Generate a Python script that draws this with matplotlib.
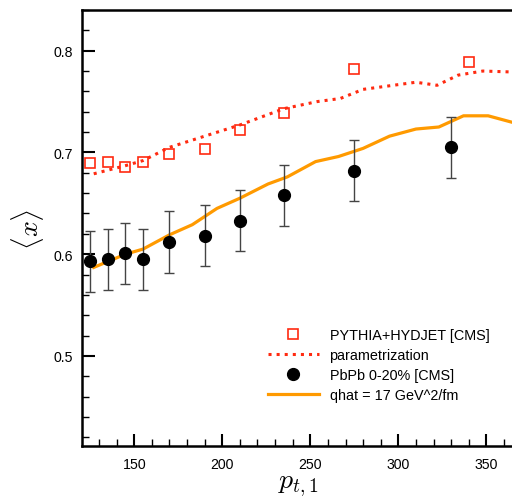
import matplotlib
matplotlib.use("Agg")
import matplotlib.pyplot as plt
from matplotlib.ticker import MultipleLocator

plt.rcParams['font.family'] = ['Liberation Sans', 'DejaVu Sans']
plt.rcParams['mathtext.fontset'] = 'cm'

# PYTHIA+HYDJET [CMS]
pyth_x = [125, 135, 145, 155, 170, 190, 210, 235, 275, 340]
pyth_y = [0.690, 0.691, 0.686, 0.691, 0.698, 0.703, 0.722, 0.739, 0.782, 0.789]

# PbPb 0-20% [CMS]
pbpb_x = [125, 135, 145, 155, 170, 190, 210, 235, 275, 330]
pbpb_y = [0.593, 0.595, 0.601, 0.595, 0.612, 0.618, 0.633, 0.658, 0.682, 0.705]
pbpb_err = [0.030, 0.030, 0.030, 0.030, 0.030, 0.030, 0.030, 0.030, 0.030, 0.030]

# parametrization
param_x = [127, 145, 155, 170, 190, 210, 235, 254, 267, 280, 310, 322, 334, 348, 366]
param_y = [0.679, 0.687, 0.692, 0.705, 0.716, 0.727, 0.743, 0.750, 0.753, 0.762,
           0.769, 0.766, 0.776, 0.780, 0.779]

# qhat = 17 GeV^2/fm
qhat_x = [127, 145, 155, 170, 183, 197, 210, 226, 237, 253, 266, 280, 295, 310,
          323, 337, 351, 366]
qhat_y = [0.587, 0.600, 0.605, 0.619, 0.629, 0.645, 0.655, 0.669, 0.676, 0.691,
          0.696, 0.704, 0.716, 0.723, 0.725, 0.736, 0.736, 0.729]

red = '#ff2a10'
orange = '#ff9a00'

fig = plt.figure(figsize=(5.12, 5.02), dpi=100)
ax = fig.add_axes([0.160, 0.1096, 0.845, 0.8685])

ax.errorbar(pbpb_x, pbpb_y, yerr=pbpb_err, fmt='none',
            ecolor='#444444', elinewidth=1.0, capsize=3.3, capthick=1.0, zorder=3)
ax.plot(pyth_x, pyth_y, 's', ms=7.5, mfc='none', mec=red, mew=1.2,
        label='PYTHIA+HYDJET [CMS]', zorder=3)
ax.plot(param_x, param_y, ':', color=red, lw=2.2, label='parametrization', zorder=2)
ax.plot(pbpb_x, pbpb_y, 'o', ms=8.5, color='black',
        label='PbPb 0-20% [CMS]', zorder=4)
ax.plot(qhat_x, qhat_y, '-', color=orange, lw=2.3, label='qhat = 17 GeV^2/fm', zorder=2)

ax.set_xlim(120.3, 366)
ax.set_ylim(0.4115, 0.840)
ax.xaxis.set_major_locator(MultipleLocator(50))
ax.xaxis.set_minor_locator(MultipleLocator(10))
ax.yaxis.set_major_locator(MultipleLocator(0.1))
ax.yaxis.set_minor_locator(MultipleLocator(0.02))
ax.tick_params(which='both', direction='in', top=False, right=False, labelsize=10.2)
ax.tick_params(which='major', length=9, width=1.5)
ax.tick_params(which='minor', length=5, width=1.0)
ax.tick_params(axis='y', which='major', pad=6.5)
ax.tick_params(axis='x', which='major', pad=8)
for s in ['left', 'bottom', 'top']:
    ax.spines[s].set_linewidth(1.8)
ax.spines['right'].set_visible(False)

ax.set_xlabel(r'$p_{t,1}$', fontsize=20, labelpad=1)
ax.set_ylabel(r'$\langle x \rangle$', fontsize=20, labelpad=5)

ax.legend(loc='lower left', bbox_to_anchor=(0.40, 0.071),
          frameon=False, fontsize=10.4, handlelength=3.5, handletextpad=0.76,
          labelspacing=0.42)

fig.savefig('out.png', dpi=100)
